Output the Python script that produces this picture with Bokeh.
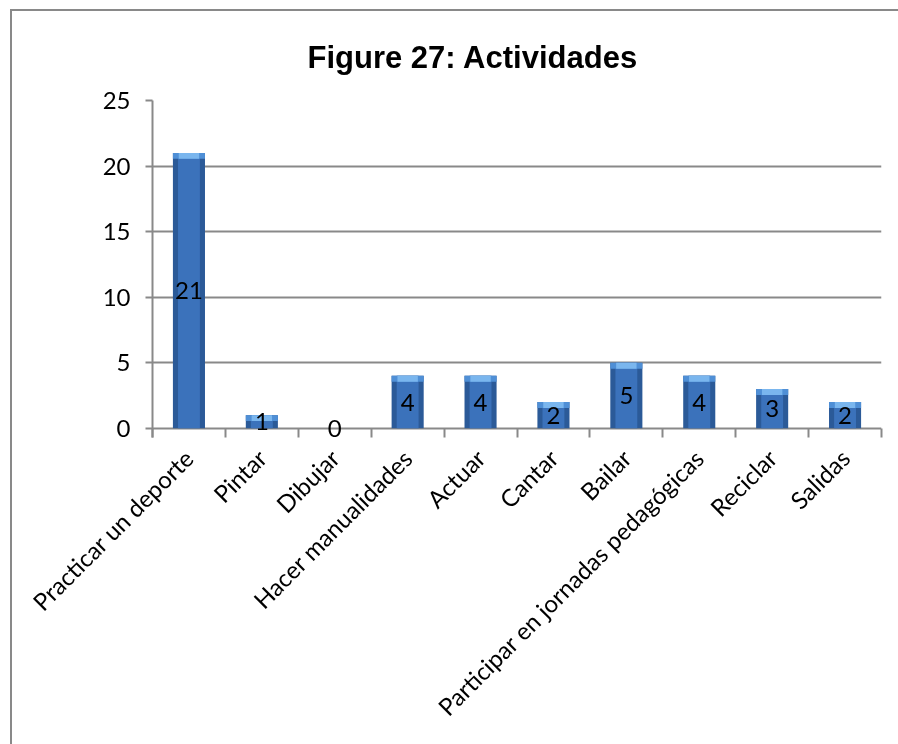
import math
from bokeh.plotting import figure
from bokeh.models import Range1d, FixedTicker, LinearAxis, Title, ColumnDataSource
from bokeh.embed import file_html
from bokeh.resources import INLINE
from bokeh.core.properties import value

# ---- data ----
categories = ["Practicar un deporte", "Pintar", "Dibujar", "Hacer manualidades", "Actuar",
              "Cantar", "Bailar", "Participar en jornadas pedagógicas", "Reciclar", "Salidas"]
counts = [21, 1, 0, 4, 4, 2, 5, 4, 3, 2]
y_ticks = [0, 5, 10, 15, 20, 25]
title_text = "Figure 27: Actividades"

GRAY = "#898989"
FONT = "Lato"
FS = "24px"

n = len(categories)
idx = list(range(n))
src = ColumnDataSource(dict(
    x=idx,
    val=counts,
    half=[v / 2 for v in counts],
    cap=[max(v - 0.45, 0) for v in counts],
    lbl=[str(v) for v in counts],
))

OX, OY = 12, 11          # canvas origin on the page (inside the chart border)
W, H = 940, 800          # larger than the window; the chart box continues off-page
Y0 = -0.7                # a little room below zero so the "0" value label is not cut
p = figure(
    width=W, height=H,
    x_range=Range1d(-0.5, n - 0.5),
    y_range=Range1d(Y0, 25),
    x_axis_location=None, y_axis_location=None,
    output_backend="svg", toolbar_location=None,
    min_border_left=152 - OX, min_border_right=W - (881 - OX),
    min_border_top=99 - OY, min_border_bottom=H - (437 - OY),
)
p.styles = {"position": "fixed", "left": f"{OX}px", "top": f"{OY}px",
            "box-shadow": f"-2px -2px 0 0 {GRAY}"}
p.outline_line_color = None
p.background_fill_color = "white"
p.border_fill_color = "white"

# grid (the line at 0 doubles as the category axis line)
p.xgrid.grid_line_color = None
p.ygrid.ticker = FixedTicker(ticks=y_ticks)
p.ygrid.grid_line_color = GRAY
p.ygrid.grid_line_width = 2

# y axis
yaxis = LinearAxis(ticker=FixedTicker(ticks=y_ticks))
yaxis.axis_line_color = GRAY
yaxis.axis_line_width = 2
yaxis.major_tick_line_color = GRAY
yaxis.major_tick_line_width = 2
yaxis.major_tick_out = 7
yaxis.major_tick_in = 0
yaxis.minor_tick_line_color = None
yaxis.major_label_standoff = 15
yaxis.major_label_text_font = FONT
yaxis.major_label_text_font_size = FS
yaxis.major_label_text_color = "black"
p.add_layout(yaxis, "left")

# x axis: labels at category centres, tick marks between categories (minor ticks)
xaxis = LinearAxis(ticker=FixedTicker(ticks=idx, minor_ticks=[i - 0.5 for i in range(n + 1)]),
                   major_label_overrides={i: c for i, c in zip(idx, categories)})
xaxis.axis_line_color = None
xaxis.major_tick_line_color = None
xaxis.major_tick_out = 0
xaxis.major_tick_in = 0
xaxis.minor_tick_line_color = GRAY
xaxis.minor_tick_line_width = 2
xaxis.minor_tick_out = 0
xaxis.minor_tick_in = 9
xaxis.major_label_orientation = math.pi / 4
xaxis.major_label_standoff = 16
xaxis.major_label_text_font = FONT
xaxis.major_label_text_font_size = FS
xaxis.major_label_text_color = "black"
p.add_layout(xaxis, "below")

# bars (layered for a bevelled look)
p.vbar(x="x", top="val", bottom=0, width=0.44, source=src,
       fill_color="#2b5a98", line_color=None)
p.vbar(x="x", top="val", bottom=0, width=0.30, source=src,
       fill_color="#3b72bb", line_color=None)
p.vbar(x="x", top="val", bottom="cap", width=0.44, source=src,
       fill_color="#4f8fd6", line_color=None)
p.vbar(x="x", top="val", bottom="cap", width=0.28, source=src,
       fill_color="#7ab6ee", line_color=None)

# value labels
p.text(x="x", y="half", text="lbl", source=src,
       text_align="center", text_baseline="middle",
       text_font=value(FONT), text_font_size=FS, text_color="black")

# title
t = Title(text=title_text, align="left", offset=155, standoff=52,
          text_font="Liberation Sans", text_font_style="bold",
          text_font_size="31px", text_color="black")
p.add_layout(t, "above")

open("out.html", "w").write(file_html(p, INLINE))
